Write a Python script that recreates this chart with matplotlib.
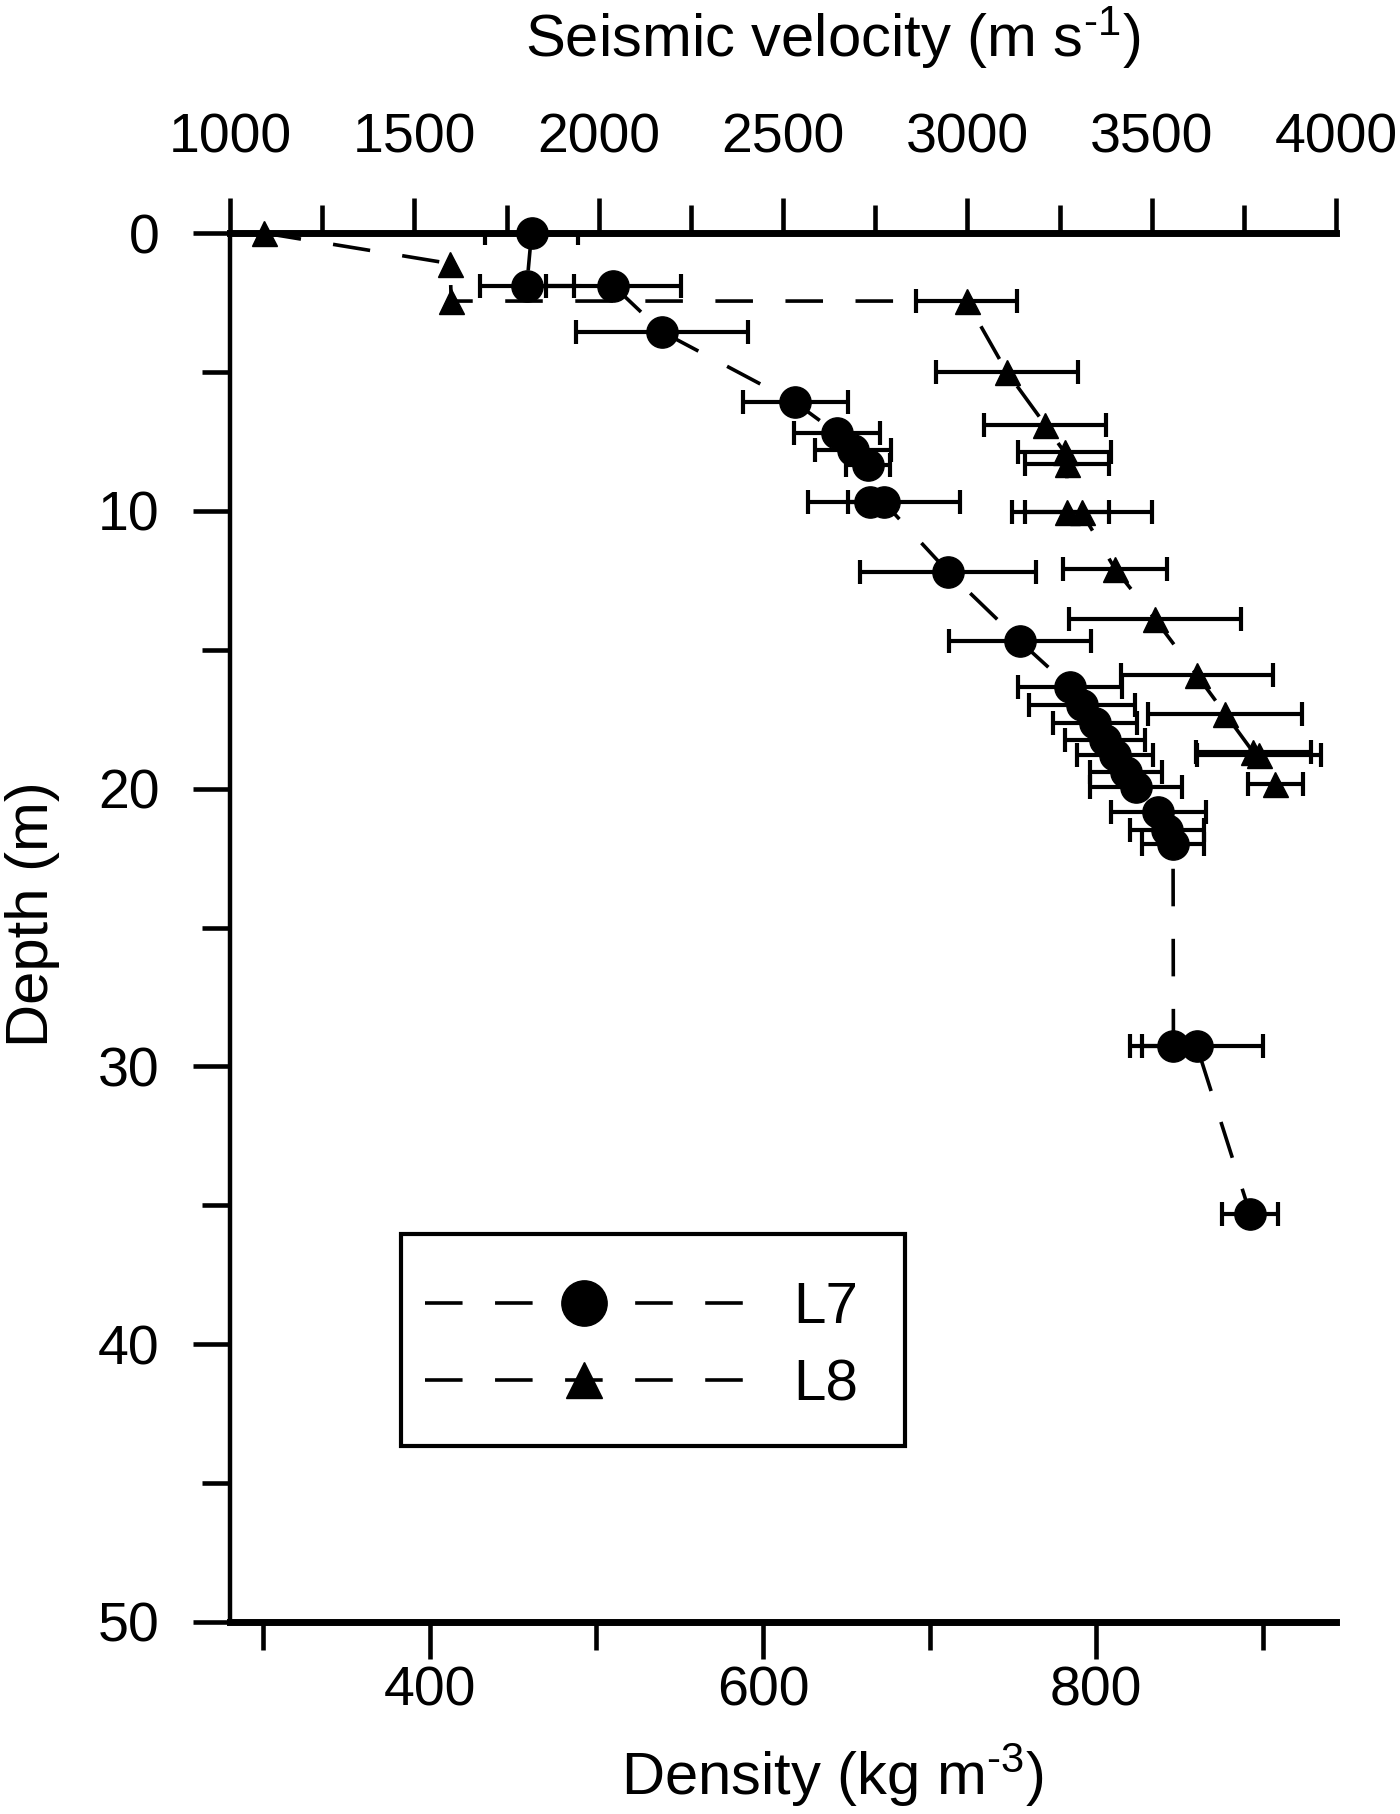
import numpy as np
import matplotlib
matplotlib.use("Agg")
import matplotlib.pyplot as plt
from matplotlib.ticker import FixedLocator
from matplotlib.patches import Rectangle

plt.rcParams['font.family'] = ['Liberation Sans', 'DejaVu Sans']
plt.rcParams['mathtext.default'] = 'regular'

# L7 (circles): velocity (m/s), depth (m), error half-width (m/s)
l7_depth = [0.0, 1.9, 1.9, 3.55, 6.1, 7.2, 7.8, 8.35, 9.7, 9.7, 12.2, 14.7,
            16.35, 17.0, 17.65, 18.25, 18.8, 19.4, 19.95, 20.85, 21.5, 22.0,
            29.25, 29.25, 35.3]
l7_vel = [1818, 1805, 2040, 2171, 2533, 2646, 2690, 2731, 2736, 2774, 2948, 3143,
          3279, 3310, 3346, 3373, 3401, 3430, 3458, 3518, 3542, 3558,
          3559, 3622, 3767]
l7_err = [126, 127, 184, 233, 142, 117, 103, 60, 60, 206, 239, 193,
          141, 144, 114, 108, 103, 98, 125, 129, 100, 84,
          86, 181, 76]

# L8 (triangles)
l8_depth = [0.0, 1.1, 2.45, 2.45, 5.0, 6.9, 7.9, 8.3, 10.05, 10.05, 12.1, 13.9,
            15.9, 17.3, 18.7, 18.8, 19.85]
l8_vel = [1092, 1597, 1600, 2998, 3107, 3211, 3264, 3270, 3270, 3310, 3401, 3509,
          3622, 3699, 3776, 3791, 3835]
l8_err = [0, 0, 0, 138, 193, 165, 127, 114, 114, 190, 141, 233,
          206, 209, 157, 168, 75]

fig = plt.figure(figsize=(14, 18.14), dpi=100)
ax = fig.add_axes([230/1400, 1 - 1622/1814, 1106/1400, 1389/1814])
axt = ax.twiny()

ax.set_xlim(280, 944)
ax.set_ylim(50, 0)
axt.set_xlim(1000, 4000)

dash = (0, (10.4, 9.0))
lw = 2.6

def draw(vel, depth, err, marker, ms):
    vel, depth, err = np.array(vel), np.array(depth), np.array(err)
    m = err > 0
    axt.errorbar(vel[m], depth[m], xerr=err[m], fmt='none', ecolor='black',
                 elinewidth=3, capsize=8.5, capthick=3)
    ln, = axt.plot(vel, depth, linestyle=dash, lw=lw, color='black',
                   marker=marker, ms=ms, mfc='black', mec='black', clip_on=False)
    return ln

line7 = draw(l7_vel, l7_depth, l7_err, 'o', 22.5)
line8 = draw(l8_vel, l8_depth, l8_err, '^', 18)

# spines
ax.spines['right'].set_visible(False)
ax.spines['top'].set_visible(False)
axt.spines['right'].set_visible(False)
axt.spines['left'].set_visible(False)
axt.spines['bottom'].set_visible(False)
ax.spines['left'].set_linewidth(3.2)
ax.spines['bottom'].set_linewidth(5)
axt.spines['top'].set_linewidth(5)

tw = 3.3
# bottom (density) ticks
ax.xaxis.set_major_locator(FixedLocator([400, 600, 800]))
ax.xaxis.set_minor_locator(FixedLocator([300, 500, 700, 900]))
ax.tick_params(axis='x', which='major', direction='out', length=26.6, width=tw,
               labelsize=40, pad=5)
ax.tick_params(axis='x', which='minor', direction='out', length=20, width=tw)

# depth ticks
ax.yaxis.set_major_locator(FixedLocator([0, 10, 20, 30, 40, 50]))
ax.yaxis.set_minor_locator(FixedLocator([5, 15, 25, 35, 45]))
ax.tick_params(axis='y', which='major', direction='out', length=26.6, width=tw,
               labelsize=40, pad=24)
ax.tick_params(axis='y', which='minor', direction='out', length=20, width=tw)

# top (velocity) ticks
axt.xaxis.set_major_locator(FixedLocator(np.arange(1000, 4001, 500)))
axt.xaxis.set_minor_locator(FixedLocator(np.arange(1250, 4000, 500)))
axt.tick_params(axis='x', which='major', direction='out', length=25, width=tw,
                labelsize=40, pad=24)
axt.tick_params(axis='x', which='minor', direction='out', length=20, width=tw)

# axis labels
axt.set_xlabel('Seismic velocity (m s$^{\u20101}$)', fontsize=43)
axt.xaxis.set_label_coords(0.545, 1.1267)
axt.xaxis.label.set_va('baseline')

ax.set_xlabel('Density (kg m$^{\u20103}$)', fontsize=43)
ax.xaxis.set_label_coords(0.545, -0.1245)
ax.xaxis.label.set_va('baseline')

ax.set_ylabel('Depth (m)', fontsize=43)
ax.yaxis.set_label_coords(-0.179, 0.5097)
ax.yaxis.label.set_va('center')

# legend: frame drawn as a box, entries placed inside it
box = Rectangle((0.1546, 0.1267), 0.4557, 0.1526, transform=axt.transAxes,
                facecolor='white', edgecolor='black', lw=3, zorder=4.5, clip_on=False)
axt.add_patch(box)
leg = axt.legend([line7, line8], ['L7', 'L8'], loc='upper left',
                 bbox_to_anchor=(0.1763, 0.2455), borderaxespad=0, borderpad=0,
                 fontsize=42, handlelength=5.45, handletextpad=0.87,
                 labelspacing=0.4, markerscale=1.45, numpoints=1, frameon=False)
leg.set_zorder(5)

fig.savefig('out.png', dpi=100)
